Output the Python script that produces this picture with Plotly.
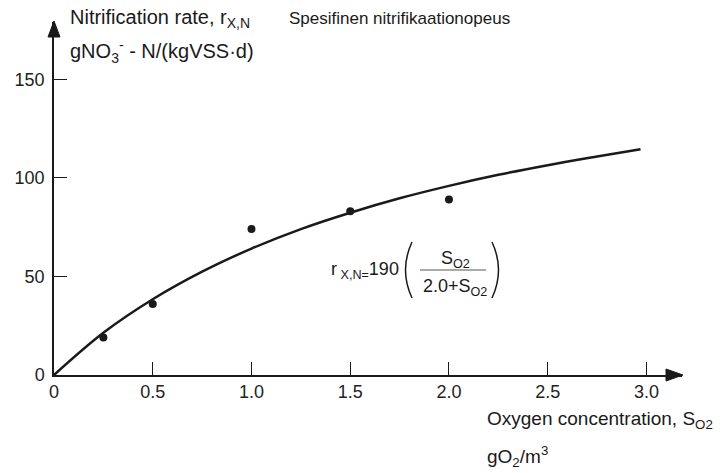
import plotly.graph_objects as go

# ---- data ----
meas_x = [0.25, 0.5, 1.0, 1.5, 2.0]
meas_y = [19, 36, 74, 83, 89]

curve_x = [0, 0.25, 0.5, 0.75, 1.0, 1.25, 1.5, 1.75, 2.0, 2.25, 2.5, 2.75, 2.97]
curve_y = [0, 21.4, 38.4, 52.4, 64.1, 74.0, 82.3, 89.6, 95.9, 101.5, 106.4, 110.8, 114.5]

x_ticks = [0, 0.5, 1.0, 1.5, 2.0, 2.5, 3.0]
x_tick_labels = ["0", "0.5", "1.0", "1.5", "2.0", "2.5", "3.0"]
y_ticks = [0, 50, 100, 150]
y_tick_labels = ["0", "50", "100", "150"]

# ---- layout geometry (pixels) ----
W_FIG, H_FIG = 722, 473
L, R, T, B = 54, 40, 22, 98
PW = W_FIG - L - R
PH = H_FIG - T - B
X_MAX, Y_MAX = 3.18, 179


def px(x):
    return (x - L) / PW


def py(y):
    return (H_FIG - B - y) / PH


FONT = "Liberation Sans, Arial, sans-serif"
INK = "#1a1a1a"

fig = go.Figure()
fig.add_trace(go.Scatter(x=curve_x, y=curve_y, mode="lines",
                         line=dict(color=INK, width=2.5, shape="spline", smoothing=1.0),
                         hoverinfo="skip", showlegend=False))
fig.add_trace(go.Scatter(x=meas_x, y=meas_y, mode="markers",
                         marker=dict(color=INK, size=8),
                         showlegend=False))

fig.update_layout(
    width=W_FIG, height=H_FIG,
    margin=dict(l=L, r=R, t=T, b=B),
    paper_bgcolor="white", plot_bgcolor="white",
    font=dict(family=FONT, color=INK, size=18),
    xaxis=dict(range=[0, X_MAX], showgrid=False, zeroline=False,
               showline=True, linecolor=INK, linewidth=1.5,
               ticks="inside", ticklen=13, tickwidth=1, tickcolor=INK,
               tickvals=x_ticks, ticktext=x_tick_labels,
               tickfont=dict(size=18, color="#222")),
    yaxis=dict(range=[0, Y_MAX], showgrid=False, zeroline=False,
               showline=True, linecolor=INK, linewidth=1.5,
               ticks="inside", ticklen=13, tickwidth=1, tickcolor=INK,
               tickvals=y_ticks, ticktext=y_tick_labels,
               ticklabelstandoff=4,
               tickfont=dict(size=18, color="#222")),
)

shapes = []
# arrowheads
shapes.append(dict(type="path", xref="paper", yref="paper",
                   path=f"M {px(683)},{py(375)} L {px(666)},{py(369)} L {px(666)},{py(381)} Z",
                   fillcolor=INK, line=dict(color=INK, width=1)))
shapes.append(dict(type="path", xref="paper", yref="paper",
                   path=f"M {px(54)},{py(21)} L {px(48)},{py(37)} L {px(60)},{py(37)} Z",
                   fillcolor=INK, line=dict(color=INK, width=1)))
# fraction line
shapes.append(dict(type="line", xref="paper", yref="paper",
                   x0=px(420), x1=px(486), y0=py(270), y1=py(270),
                   line=dict(color="#555", width=1)))
# parentheses
shapes.append(dict(type="path", xref="paper", yref="paper",
                   path=f"M {px(412)},{py(242)} Q {px(399)},{py(270)} {px(412)},{py(298)}",
                   line=dict(color=INK, width=1.5)))
shapes.append(dict(type="path", xref="paper", yref="paper",
                   path=f"M {px(492)},{py(242)} Q {px(505)},{py(270)} {px(492)},{py(298)}",
                   line=dict(color=INK, width=1.5)))
fig.update_layout(shapes=shapes)


def note(text, x, y, size=18, xanchor="left"):
    fig.add_annotation(text=text, x=px(x), y=py(y), xref="paper", yref="paper",
                       xanchor=xanchor, yanchor="middle", showarrow=False,
                       font=dict(size=size, family=FONT, color=INK))


note("Nitrification rate, r<sub>X,N</sub>", 68, 19, size=20)
note("gNO<sub>3</sub><sup>-</sup> - N/(kgVSS·d)", 68, 51, size=20)
note("Spesifinen nitrifikaationopeus", 287, 19, size=17)
note("Oxygen concentration, S<sub>O2</sub>", 485, 420, size=19)
note("gO<sub>2</sub>/m<sup>3</sup>", 485, 457, size=19)

note("r<sub> X,N=</sub>190", 329, 270, size=18)
note("S<sub>O2</sub>", 455, 259, size=18, xanchor="center")
note("2.0+S<sub>O2</sub>", 455, 287, size=18, xanchor="center")

fig.write_html("out.html")
